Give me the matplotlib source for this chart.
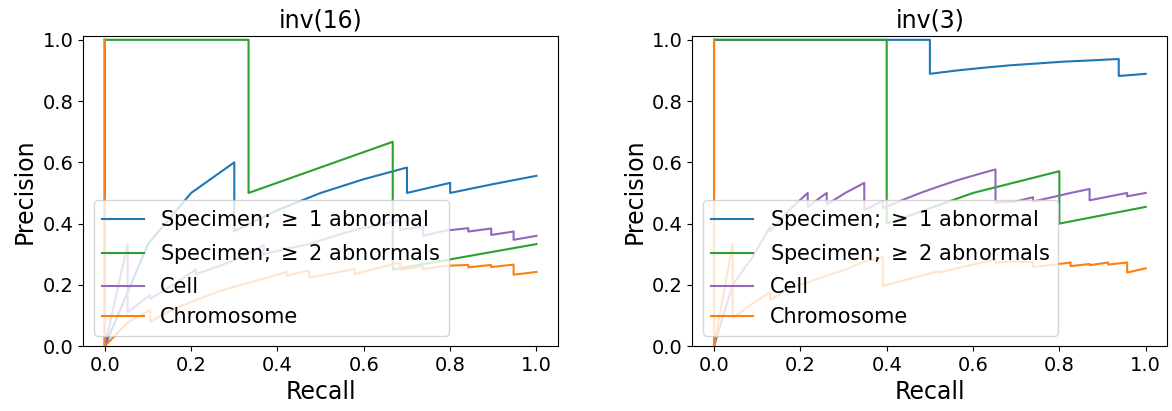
import matplotlib
matplotlib.use('Agg')
import matplotlib.pyplot as plt

# panel titles and legend labels
titles = ['inv(16)', 'inv(3)']
labels = ['Specimen; $\\geq$ 1 abnormal', 'Specimen; $\\geq$ 2 abnormals', 'Cell', 'Chromosome']
colors = ['#1f77b4', '#2ca02c', '#9467bd', '#ff7f0e']

# inv(16)
inv16_spec1_recall = [0, 0, 0.1, 0.2, 0.3, 0.3, 0.4, 0.5, 0.6, 0.7, 0.7, 0.8, 0.8, 0.9, 1.0]
inv16_spec1_precision = [1.0, 0.0, 0.333, 0.5, 0.6, 0.375, 0.444, 0.5, 0.545, 0.583, 0.5, 0.533, 0.5, 0.529, 0.556]

inv16_spec2_recall = [0, 0.333, 0.333, 0.667, 0.667, 1.0]
inv16_spec2_precision = [1.0, 1.0, 0.5, 0.667, 0.25, 0.333]

inv16_cell_recall = [0, 0, 0.053, 0.053, 0.105, 0.105, 0.158, 0.211, 0.211, 0.263, 0.316, 0.368, 0.368,
                     0.421, 0.474, 0.526, 0.579, 0.632, 0.684, 0.684, 0.737, 0.737, 0.789, 0.842, 0.842,
                     0.895, 0.895, 0.947, 0.947, 1.0]
inv16_cell_precision = [1.0, 0.0, 0.333, 0.111, 0.167, 0.154, 0.2, 0.25, 0.235, 0.26, 0.29, 0.33, 0.30,
                        0.318, 0.333, 0.357, 0.379, 0.395, 0.41, 0.38, 0.39, 0.36, 0.377, 0.385, 0.374,
                        0.384, 0.363, 0.374, 0.347, 0.36]

inv16_chrom_recall = [0, 0, 0.053, 0.105, 0.105, 0.158, 0.211, 0.263, 0.316, 0.368, 0.421, 0.421, 0.474,
                      0.474, 0.526, 0.579, 0.579, 0.632, 0.684, 0.684, 0.737, 0.737, 0.789, 0.842, 0.842,
                      0.895, 0.895, 0.947, 0.947, 1.0]
inv16_chrom_precision = [1.0, 0.0, 0.077, 0.118, 0.08, 0.12, 0.15, 0.178, 0.2, 0.22, 0.242, 0.23, 0.247,
                         0.224, 0.237, 0.252, 0.235, 0.255, 0.272, 0.25, 0.26, 0.251, 0.262, 0.265, 0.257,
                         0.265, 0.258, 0.266, 0.233, 0.242]

# inv(3)
inv3_spec1_recall = [0, 0.5, 0.5, 0.5625, 0.625, 0.6875, 0.75, 0.8125, 0.875, 0.9375, 0.9375, 1.0]
inv3_spec1_precision = [1.0, 1.0, 0.889, 0.9, 0.909, 0.917, 0.923, 0.929, 0.933, 0.9375, 0.882, 0.889]

inv3_spec2_recall = [0, 0.2, 0.4, 0.4, 0.6, 0.8, 0.8, 1.0]
inv3_spec2_precision = [1.0, 1.0, 1.0, 0.4, 0.5, 0.571, 0.4, 0.4545]

inv3_cell_recall = [0, 0, 0.043, 0.087, 0.13, 0.13, 0.174, 0.217, 0.217, 0.261, 0.261, 0.304, 0.348, 0.348,
                    0.391, 0.391, 0.435, 0.478, 0.522, 0.565, 0.609, 0.652, 0.652, 0.696, 0.739, 0.739,
                    0.783, 0.826, 0.87, 0.87, 0.913, 0.957, 0.957, 1.0]
inv3_cell_precision = [1.0, 0.0, 0.2, 0.286, 0.39, 0.375, 0.444, 0.5, 0.455, 0.5, 0.462, 0.5, 0.533, 0.444,
                       0.474, 0.45, 0.476, 0.5, 0.522, 0.542, 0.56, 0.577, 0.469, 0.471, 0.486, 0.472,
                       0.486, 0.5, 0.513, 0.476, 0.488, 0.5, 0.489, 0.5]

inv3_chrom_recall = [0, 0, 0.043, 0.043, 0.087, 0.13, 0.13, 0.174, 0.217, 0.261, 0.304, 0.348, 0.391, 0.391,
                     0.435, 0.478, 0.522, 0.522, 0.565, 0.609, 0.652, 0.652, 0.696, 0.739, 0.739, 0.783,
                     0.826, 0.826, 0.87, 0.87, 0.913, 0.913, 0.957, 0.957, 1.0]
inv3_chrom_precision = [1.0, 0.0, 0.333, 0.091, 0.137, 0.176, 0.15, 0.19, 0.208, 0.23, 0.25, 0.276, 0.29, 0.196,
                        0.213, 0.229, 0.245, 0.24, 0.255, 0.269, 0.283, 0.273, 0.276, 0.274, 0.258, 0.265,
                        0.273, 0.261, 0.268, 0.264, 0.273, 0.266, 0.273, 0.24, 0.254]

panels = [
    [(inv16_spec1_recall, inv16_spec1_precision), (inv16_spec2_recall, inv16_spec2_precision),
     (inv16_cell_recall, inv16_cell_precision), (inv16_chrom_recall, inv16_chrom_precision)],
    [(inv3_spec1_recall, inv3_spec1_precision), (inv3_spec2_recall, inv3_spec2_precision),
     (inv3_cell_recall, inv3_cell_precision), (inv3_chrom_recall, inv3_chrom_precision)],
]

fig, axes = plt.subplots(1, 2, figsize=(11.72, 4.11), dpi=100)
fig.subplots_adjust(left=0.071, right=0.996, bottom=0.158, top=0.912, wspace=0.283)

for ax, title, curves in zip(axes, titles, panels):
    for (r, p), lab, c in zip(curves, labels, colors):
        ax.plot(r, p, color=c, label=lab)
    ax.set_ylim(0.0, 1.012)
    ax.set_title(title, fontsize=17)
    ax.set_xlabel('Recall', fontsize=17)
    ax.set_ylabel('Precision', fontsize=17)
    ax.tick_params(labelsize=14)
    ax.legend(loc='lower left', fontsize=15)

plt.savefig('out.png')
